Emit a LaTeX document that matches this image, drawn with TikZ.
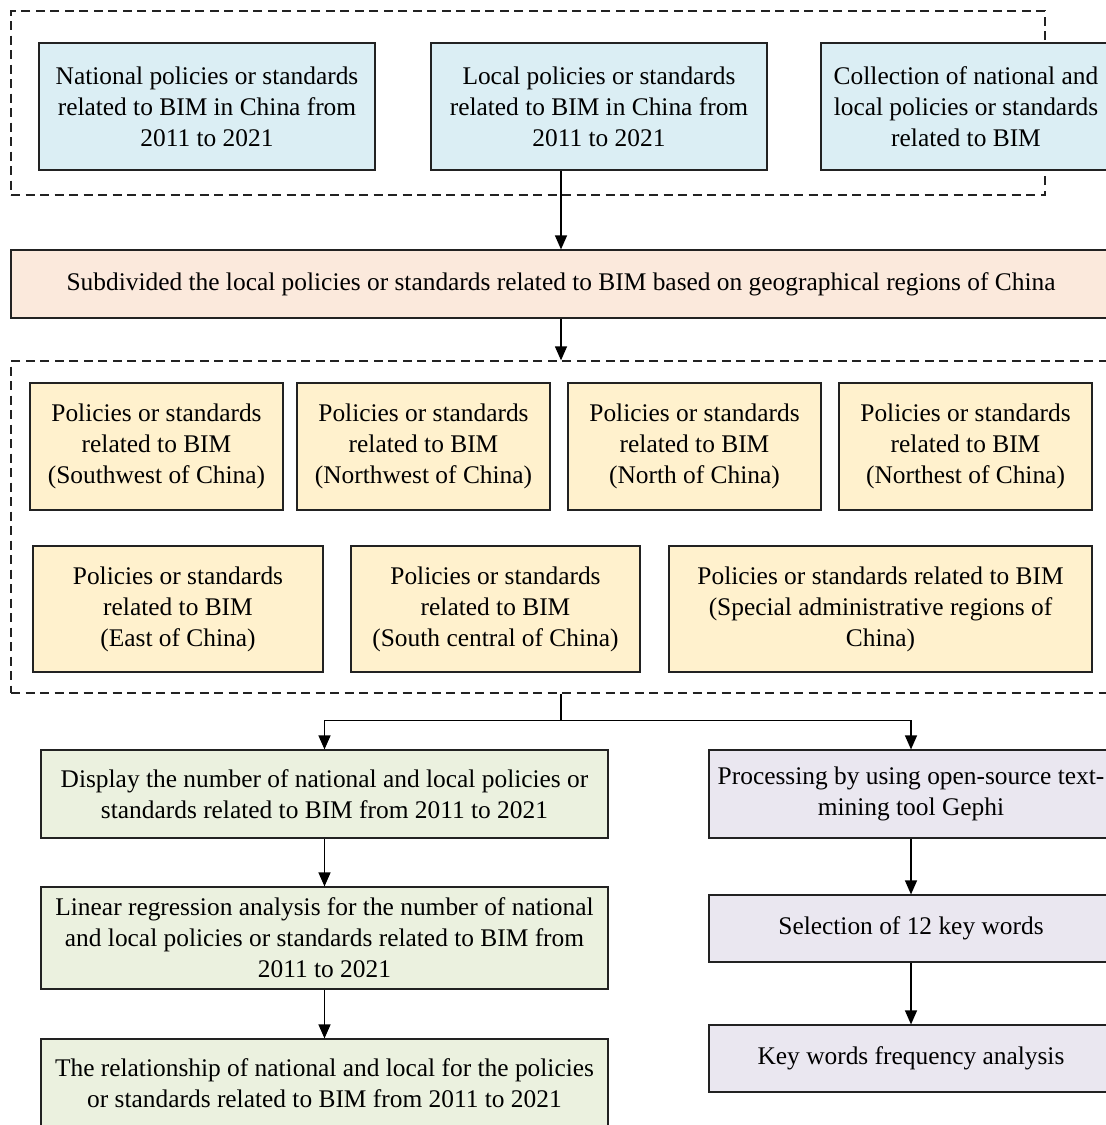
\documentclass[tikz,border=0pt]{standalone}
\usepackage{fontspec}
\setmainfont{Liberation Serif}
\usetikzlibrary{arrows.meta}
\definecolor{fillblue}{HTML}{DBEEF4}
\definecolor{fillpeach}{HTML}{FBE9DC}
\definecolor{fillyellow}{HTML}{FFF1CD}
\definecolor{fillgreen}{HTML}{EBF1DF}
\definecolor{fillgrey}{HTML}{EAE7F0}
\definecolor{edge}{HTML}{222222}
\tikzset{
  box/.style={draw=edge, line width=1.2pt, rectangle, inner sep=0pt, align=center,
    font=\fontsize{25.4}{31}\selectfont, text=black},
  bluebox/.style={box, fill=fillblue},
  peachbox/.style={box, fill=fillpeach},
  yellowbox/.style={box, fill=fillyellow},
  greenbox/.style={box, fill=fillgreen},
  greybox/.style={box, fill=fillgrey},
  frame/.style={draw=edge, line width=1.3pt, dash pattern=on 9pt off 5.5pt, rectangle, inner sep=0pt},
  arr/.style={draw=black, line width=1.3pt, -{Triangle[length=14pt,width=12pt]}},
  link/.style={draw=black, line width=1.3pt},
}
\begin{document}
\begin{tikzpicture}[x=1pt,y=-1pt]
\path[use as bounding box, clip] (0,0) rectangle (1106,1125);
\fill[white] (0,0) rectangle (1106,1125);

% collection stage
\node[frame, minimum width=1034pt, minimum height=184pt] (g1) at (528,103) {};
\node[bluebox, minimum width=336pt, minimum height=127pt] (nat) at (207,106.5)
  {National policies or standards\\related to BIM in China from\\2011 to 2021};
\node[bluebox, minimum width=336pt, minimum height=127pt] (loc) at (599,106.5)
  {Local policies or standards\\related to BIM in China from\\2011 to 2021};
\node[bluebox, minimum width=290pt, minimum height=127pt] (col) at (966,106.5)
  {Collection of national and\\local policies or standards\\related to BIM};

% subdivision
\node[peachbox, minimum width=1100pt, minimum height=68pt] (sub) at (561,284)
  {Subdivided the local policies or standards related to BIM based on geographical regions of China};

% regional groups
\node[frame, minimum width=1100pt, minimum height=332pt] (g2) at (561,527) {};
\node[yellowbox, minimum width=253pt, minimum height=127pt] (sw) at (156.5,446.5)
  {Policies or standards\\related to BIM\\(Southwest of China)};
\node[yellowbox, minimum width=253pt, minimum height=127pt] (nw) at (423.5,446.5)
  {Policies or standards\\related to BIM\\(Northwest of China)};
\node[yellowbox, minimum width=253pt, minimum height=127pt] (nc) at (694.5,446.5)
  {Policies or standards\\related to BIM\\(North of China)};
\node[yellowbox, minimum width=253pt, minimum height=127pt] (ne) at (965.5,446.5)
  {Policies or standards\\related to BIM\\(Northest of China)};
\node[yellowbox, minimum width=290pt, minimum height=126pt] (ec) at (178,609)
  {Policies or standards\\related to BIM\\(East of China)};
\node[yellowbox, minimum width=289pt, minimum height=126pt] (sc) at (495.5,609)
  {Policies or standards\\related to BIM\\(South central of China)};
\node[yellowbox, minimum width=423pt, minimum height=126pt] (sar) at (880.5,609)
  {Policies or standards related to BIM\\(Special administrative regions of\\China)};

% analysis branch
\node[greenbox, minimum width=567pt, minimum height=88pt] (disp) at (324.5,794)
  {Display the number of national and local policies or\\standards related to BIM from 2011 to 2021};
\node[greenbox, minimum width=567pt, minimum height=102pt] (lin) at (324.5,938)
  {Linear regression analysis for the number of national\\and local policies or standards related to BIM from\\2011 to 2021};
\node[greenbox, minimum width=567pt, minimum height=88pt] (rel) at (324.5,1083)
  {The relationship of national and local for the policies\\or standards related to BIM from 2011 to 2021};

% text-mining branch
\node[greybox, minimum width=404pt, minimum height=88pt] (proc) at (911,794)
  {Processing by using open-source text-\\mining tool Gephi};
\node[greybox, minimum width=404pt, minimum height=67pt] (sel) at (911,928.5)
  {Selection of 12 key words};
\node[greybox, minimum width=404pt, minimum height=67pt] (kw) at (911,1058.5)
  {Key words frequency analysis};

% connectors
\path[arr] (loc.south -| sub.north) -- (sub.north);
\path[arr] (sub.south) -- (g2.north);
\path[link] (g2.south) -- ++(0,27) coordinate (split);
\path[arr] (split) -| (disp.north);
\path[arr] (split) -| (proc.north);
\path[arr] (disp.south) -- (lin.north);
\path[arr] (lin.south) -- (rel.north);
\path[arr] (proc.south) -- (sel.north);
\path[arr] (sel.south) -- (kw.north);
\end{tikzpicture}
\end{document}
